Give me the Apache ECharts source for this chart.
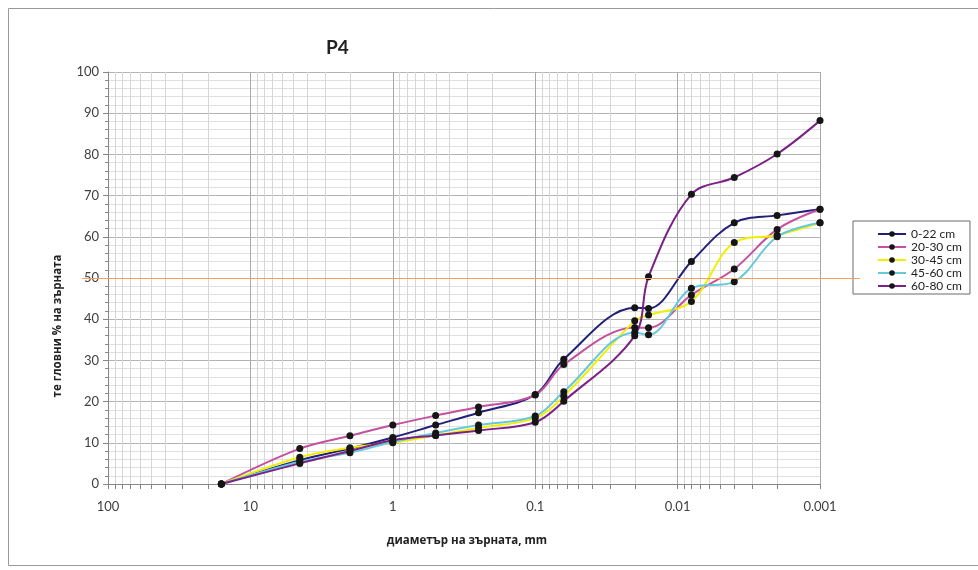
<!DOCTYPE html>
<html>
<head>
<meta charset="utf-8">
<script src="https://cdn.jsdelivr.net/npm/echarts@6/dist/echarts.min.js"></script>
<style>
  html, body { margin: 0; padding: 0; background: #fff; }
  #main { width: 978px; height: 570px; }
</style>
</head>
<body>
<div id="main"></div>
<script>
  // диаметър на зърната, mm
  const sizes = [16, 4.5, 2, 1, 0.5, 0.25, 0.1, 0.063, 0.02, 0.016, 0.008, 0.004, 0.002, 0.001];
  // тегловни % по хоризонти
  const h0_22  = [0, 5.8, 8.6, 11.3, 14.3, 17.3, 21.7, 30.3, 42.8, 42.6, 54.0, 63.4, 65.2, 66.7];
  const h20_30 = [0, 8.6, 11.7, 14.3, 16.6, 18.7, 21.6, 29.0, 38.0, 37.9, 45.9, 52.2, 61.8, 66.7];
  const h30_45 = [0, 6.5, 8.8, 10.0, 11.8, 13.6, 16.0, 21.3, 39.6, 41.0, 44.3, 58.6, 60.4, 63.4];
  const h45_60 = [0, 5.4, 7.6, 10.2, 12.4, 14.3, 16.5, 22.4, 36.8, 36.2, 47.5, 49.1, 60.0, 63.4];
  const h60_80 = [0, 5.0, 8.0, 10.6, 11.8, 13.0, 15.0, 20.1, 36.0, 50.3, 70.3, 74.4, 80.1, 88.2];
  const names = ['0-22 cm', '20-30 cm', '30-45 cm', '45-60 cm', '60-80 cm'];
  const colors = ['#23207a', '#c4519f', '#f2ee00', '#66c8da', '#7a2285'];
  // помощни линии на логаритмичната ос
  const minorSizes = [90, 80, 70, 60, 50, 40, 30, 20,
    9, 8, 7, 6, 5, 4, 3, 2,
    0.9, 0.8, 0.7, 0.6, 0.5, 0.4, 0.3, 0.2,
    0.09, 0.08, 0.07, 0.06, 0.05, 0.04, 0.03, 0.02,
    0.009, 0.008, 0.007, 0.006, 0.005, 0.004, 0.003, 0.002];
  const refLevel = 50;

  const font = 'Lato, "Open Sans", sans-serif';
  const cyrFont = '"Open Sans", sans-serif';
  const allData = [h0_22, h20_30, h30_45, h45_60, h60_80];

  let myChart = echarts.init(document.getElementById('main'));

  let lineSeries = allData.map(function (vals, k) {
    return {
      name: names[k],
      type: 'line',
      data: sizes.map(function (s, i) { return [s, vals[i]]; }),
      smooth: 0.35,
      symbol: 'circle',
      symbolSize: 7,
      lineStyle: { color: colors[k], width: 2 },
      itemStyle: { color: '#151515' },
      z: 3
    };
  });

  myChart.setOption({
    animation: false,
    title: {
      text: 'P4',
      left: 326,
      top: 38,
      padding: 0,
      textStyle: { fontSize: 19, fontWeight: 'bold', fontFamily: font, color: '#222' }
    },
    legend: {
      data: names,
      orient: 'vertical',
      left: 853,
      top: 221,
      padding: [7, 8, 2, 24],
      itemWidth: 28,
      itemHeight: 7,
      itemGap: 1,
      borderColor: '#6b6b6b',
      borderWidth: 1,
      textStyle: { fontSize: 12, lineHeight: 12, fontFamily: font, color: '#222' }
    },
    grid: { left: 108, right: 158, top: 72, bottom: 86 },
    xAxis: {
      type: 'log',
      logBase: 10,
      min: 0.001,
      max: 100,
      inverse: true,
      axisLine: { lineStyle: { color: '#868686' } },
      axisTick: { length: 5, lineStyle: { color: '#868686' } },
      axisLabel: { fontSize: 13, margin: 16, color: '#404040', fontFamily: font },
      splitLine: { show: true, lineStyle: { color: '#a8a8a8' } }
    },
    yAxis: {
      type: 'value',
      min: 0,
      max: 100,
      interval: 10,
      axisLine: { show: true, lineStyle: { color: '#868686' } },
      axisTick: { show: true, length: 5, lineStyle: { color: '#868686' } },
      axisLabel: { fontSize: 13, margin: 9, color: '#404040', fontFamily: font },
      splitLine: { lineStyle: { color: '#b3b3b3' } },
      minorTick: { show: true, splitNumber: 5, length: 3, lineStyle: { color: '#868686' } },
      minorSplitLine: { show: true, lineStyle: { color: '#e0e0e0' } }
    },
    series: [{
      name: 'minor',
      type: 'custom',
      silent: true,
      clip: false,
      z: 1,
      data: minorSizes.map(function (v) { return [v, 0]; }),
      encode: { x: 0, y: 1 },
      renderItem: function (params, api) {
        let b = api.coord([api.value(0), 0]);
        let t = api.coord([api.value(0), 100]);
        let x = Math.round(b[0]) + 0.5;
        return {
          type: 'group',
          children: [
            { type: 'line', shape: { x1: x, y1: t[1], x2: x, y2: b[1] }, style: { stroke: '#d6d6d6', lineWidth: 1 } },
            { type: 'line', shape: { x1: x, y1: b[1], x2: x, y2: b[1] + 5 }, style: { stroke: '#868686', lineWidth: 1 } }
          ]
        };
      }
    }].concat(lineSeries)
  });

  // оранжева линия на 50 % и надписи на осите
  let yRef = Math.round(myChart.convertToPixel({ yAxisIndex: 0 }, refLevel)) + 0.5;
  myChart.setOption({
    graphic: [
      { type: 'rect', shape: { x: 8.5, y: 8.5, width: 990, height: 557 }, style: { fill: 'none', stroke: '#9a9a9a', lineWidth: 1 }, z: -1 },
      { type: 'line', shape: { x1: 82, y1: yRef, x2: 860, y2: yRef }, style: { stroke: '#f2a05a', lineWidth: 1 }, z: 10 },
      { type: 'text', x: 467, y: 541, style: { text: 'диаметър на зърната, mm', fontSize: 11.5, fontWeight: 'bold', fontFamily: cyrFont, fill: '#222', align: 'center', verticalAlign: 'middle' } },
      { type: 'text', x: 58, y: 326, rotation: Math.PI / 2, style: { text: 'те гловни % на зърната', fontSize: 11.5, fontWeight: 'bold', fontFamily: cyrFont, fill: '#222', align: 'center', verticalAlign: 'middle' } }
    ]
  });
</script>
</body>
</html>
